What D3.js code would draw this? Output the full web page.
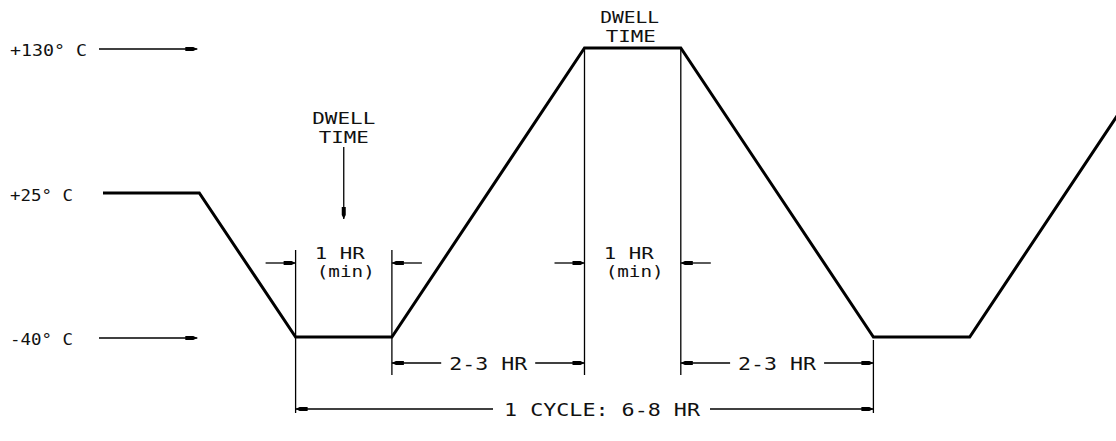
<!DOCTYPE html>
<html>
<head>
<meta charset="utf-8">
<script src="https://cdn.jsdelivr.net/npm/d3@7"></script>
<style>
body { margin: 0; background: #fff; }
text { fill: #111; }
</style>
</head>
<body>
<div id="chart"></div>
<script>
//temperature cycle profile (hours from start, deg C)
var profileHours = [0, 1, 2, 3, 5, 6, 8, 9, 11];
var profileTemps = [25, 25, -40, -40, 130, 130, -40, -40, 130];

//temperature levels on the left
var levelTemps = [130, 25, -40];
var levelLabels = ["+130° C", "+25° C", "-40° C"];
var levelArrows = [true, false, true];

//dimension spans (hours)
var dwellSpans = [[2, 3], [5, 6]];
var dwellLabel = ["DWELL", "TIME"];
var dwellMin = ["1 HR", "(min)"];
var rampSpans = [[3, 5], [6, 8]];
var rampLabel = "2-3 HR";
var cycleSpan = [2, 8];
var cycleLabel = "1 CYCLE: 6-8 HR";

//setup
var width = 1116, height = 441;
var cad = "DejaVu Sans Mono, monospace";

var svg = d3.select("#chart")
  .append("svg")
  .attr("width", width)
  .attr("height", height);

var x = d3.scaleLinear().domain([0, 11]).range([103, 103 + 11 * 96.3]);
var y = d3.scaleLinear().domain([-40, 25, 130]).range([337, 193, 48]);

var rampY = 363, cycleY = 409, minY = 263;

//small CAD style arrow head, tip at (px,py), dx/dy = direction it points
function head(px, py, dx, dy) {
  var nx = -dy, ny = dx;
  var pts = [
    [px, py],
    [px - dx * 4 + nx * 2, py - dy * 4 + ny * 2],
    [px - dx * 12 + nx * 2, py - dy * 12 + ny * 2],
    [px - dx * 12 - nx * 2, py - dy * 12 - ny * 2],
    [px - dx * 4 - nx * 2, py - dy * 4 - ny * 2]
  ];
  svg.append("path")
    .attr("d", "M" + pts.join("L") + "Z")
    .attr("fill", "#000");
}

function line(x1, y1, x2, y2) {
  svg.append("line")
    .attr("x1", x1).attr("y1", y1)
    .attr("x2", x2).attr("y2", y2)
    .attr("stroke", "#000")
    .attr("stroke-width", 1.3);
}

function label(tx, ty, s, len, size, anchor) {
  svg.append("text")
    .attr("x", tx).attr("y", ty)
    .attr("text-anchor", anchor || "middle")
    .attr("font-family", cad)
    .attr("font-size", size || 18)
    .attr("textLength", len)
    .attr("lengthAdjust", "spacingAndGlyphs")
    .text(s);
}

//level labels + arrows
levelTemps.forEach(function (t, i) {
  label(10, y(t) + 8, levelLabels[i], i == 0 ? 77 : 63, 16, "start");
  if (levelArrows[i]) {
    line(99, y(t) + 1, x(1) - 2, y(t) + 1);
    head(x(1) - 2, y(t) + 1, 1, 0);
  }
});

//extension lines
line(x(2), 250, x(2), cycleY + 4);
line(x(3), 250, x(3), rampY + 12);
line(x(5), y(130), x(5), rampY + 12);
line(x(6), y(130), x(6), rampY + 12);
line(x(8), y(-40) + 3, x(8), cycleY + 4);

//profile
svg.append("path")
  .datum(profileHours.map(function (h, i) { return [h, profileTemps[i]]; }))
  .attr("d", d3.line().x(function (d) { return x(d[0]); }).y(function (d) { return y(d[1]); }))
  .attr("fill", "none")
  .attr("stroke", "#000")
  .attr("stroke-width", 3)
  .attr("stroke-linejoin", "miter");

//dwell "1 HR (min)" dimensions
dwellSpans.forEach(function (s, i) {
  var a = x(s[0]), b = x(s[1]), mid = (a + b) / 2;
  line(a - 30, minY, a, minY);
  head(a, minY, 1, 0);
  line(b, minY, b + 30, minY);
  head(b, minY, -1, 0);
  label(mid - 4, minY - 4, dwellMin[0], 50, 15);
  label(mid + 2, minY + 14, dwellMin[1], 58, 15);
  if (i == 0) {
    label(mid, 124, dwellLabel[0], 63, 16);
    label(mid, 143, dwellLabel[1], 50, 16);
    line(mid, 147, mid, 219);
    head(mid, 219, 0, 1);
  } else {
    label(mid - 3, 23, dwellLabel[0], 59, 16);
    label(mid - 2, 42, dwellLabel[1], 50, 16);
  }
});

//ramp "2-3 HR" dimensions
rampSpans.forEach(function (s) {
  var a = x(s[0]), b = x(s[1]), mid = (a + b) / 2;
  line(a, rampY, mid - 47, rampY);
  line(mid + 47, rampY, b, rampY);
  head(a, rampY, -1, 0);
  head(b, rampY, 1, 0);
  label(mid, rampY + 7, rampLabel, 78);
});

//cycle dimension
var ca = x(cycleSpan[0]), cb = x(cycleSpan[1]);
line(ca, cycleY, 493, cycleY);
line(710, cycleY, cb, cycleY);
head(ca, cycleY, -1, 0);
head(cb, cycleY, 1, 0);
label(602, cycleY + 7, cycleLabel, 196);
</script>
</body>
</html>
